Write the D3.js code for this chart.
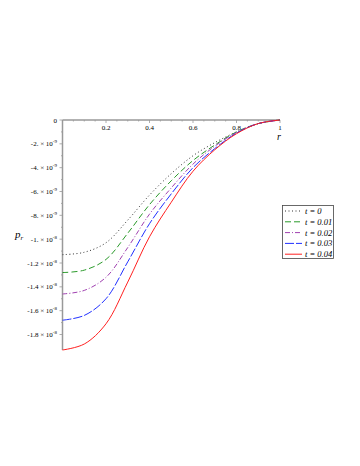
<!DOCTYPE html>
<html>
<head>
<meta charset="utf-8">
<script src="https://cdn.jsdelivr.net/npm/d3@7"></script>
<style>
  body { margin: 0; background: #fff; }
  text { font-family: "Liberation Serif", "DejaVu Serif", serif; fill: #000; }
</style>
</head>
<body>
<div class="chart"></div>
<script>
// radius samples
let rVals = [0, 0.1, 0.2, 0.3, 0.4, 0.5, 0.6, 0.7, 0.8, 0.9, 1];
// p_r values in units of 1e-9
let pT0    = [-11.3, -11.1, -10.3, -8.4, -6.3, -4.5, -3.0, -1.9, -1.0, -0.3, 0];
let pT001  = [-12.8, -12.6, -11.7, -9.5, -7.1, -5.1, -3.4, -2.1, -1.0, -0.3, 0];
let pT002  = [-14.6, -14.3, -13.2, -10.7, -7.9, -5.7, -3.7, -2.2, -1.05, -0.3, 0];
let pT003  = [-16.8, -16.4, -15.0, -11.9, -8.7, -6.2, -4.0, -2.4, -1.1, -0.3, 0];
let pT004  = [-19.3, -18.8, -17.1, -13.6, -9.8, -6.9, -4.3, -2.5, -1.15, -0.3, 0];
let seriesNames = ["t = 0", "t = 0.01", "t = 0.02", "t = 0.03", "t = 0.04"];

let xTicks = [0.2, 0.4, 0.6, 0.8, 1];
let xTickLabels = ["0.2", "0.4", "0.6", "0.8", "1"];
let yTicks = [0, -2e-9, -4e-9, -6e-9, -8e-9, -1e-8, -1.2e-8, -1.4e-8, -1.6e-8, -1.8e-8];
let yMantissa = ["0", "-2.", "-4.", "-6.", "-8.", "-1.", "-1.2", "-1.4", "-1.6", "-1.8"];
let yExponent = ["", "-9", "-9", "-9", "-9", "-8", "-8", "-8", "-8", "-8"];

let width = 360, height = 466;

let svg = d3.select('.chart').append('svg')
    .attr('width', width)
    .attr('height', height);

let x = d3.scaleLinear().domain([0, 1]).range([62.5, 280]);
let y = d3.scaleLinear().domain([-1.93e-8, 0]).range([350, 120]);

// axes lines
svg.append('line')
    .attr('x1', x(0)).attr('x2', x(1))
    .attr('y1', y(0)).attr('y2', y(0))
    .attr('stroke', '#999').attr('stroke-width', 1.5);
svg.append('line')
    .attr('x1', x(0)).attr('x2', x(0))
    .attr('y1', y(0)).attr('y2', y(-1.93e-8))
    .attr('stroke', '#999').attr('stroke-width', 1.5);

// x ticks (major + minor)
let xMinor = d3.range(1, 21).map(d => d * 0.05);
svg.selectAll('.xminor').data(xMinor).enter().append('line')
    .attr('x1', d => x(d)).attr('x2', d => x(d))
    .attr('y1', y(0)).attr('y2', d => y(0) + (Math.abs(d * 5 - Math.round(d * 5)) < 1e-6 ? 3 : 1.5))
    .attr('stroke', '#999').attr('stroke-width', 0.8);
svg.selectAll('.xlab').data(xTicks).enter().append('text')
    .attr('x', d => x(d)).attr('y', y(0) + 10)
    .attr('text-anchor', 'middle')
    .attr('font-size', 7)
    .text((d, i) => xTickLabels[i]);

// y ticks (major + minor)
let yMinor = d3.range(0, 19).map(d => -d * 1e-9);
svg.selectAll('.yminor').data(yMinor).enter().append('line')
    .attr('x1', x(0)).attr('x2', (d, i) => x(0) - (i % 2 === 0 ? 3 : 1.5))
    .attr('y1', d => y(d)).attr('y2', d => y(d))
    .attr('stroke', '#999').attr('stroke-width', 0.8);

let yLab = svg.selectAll('.ylab').data(yTicks).enter().append('text')
    .attr('x', 57).attr('y', d => y(d) + 2.5)
    .attr('text-anchor', 'end')
    .attr('font-size', 7);
yLab.append('tspan').text((d, i) => yMantissa[i] + (yExponent[i] ? ' × 10' : ''));
yLab.filter((d, i) => yExponent[i] !== '').append('tspan')
    .attr('dy', -3).attr('font-size', 5)
    .text(d => yExponent[yTicks.indexOf(d)]);

// axis titles
svg.append('text')
    .attr('x', 277).attr('y', 140)
    .attr('font-style', 'italic').attr('font-size', 10)
    .text('r');
let pLab = svg.append('text')
    .attr('x', 15).attr('y', 238)
    .attr('font-style', 'italic').attr('font-size', 11);
pLab.append('tspan').text('p');
pLab.append('tspan').attr('dy', 2).attr('font-size', 7).text('r');

// curves
let allSeries = [pT0, pT001, pT002, pT003, pT004];
let colors = ['#333333', '#2a9a2a', '#a040b0', '#2030ff', '#ff2020'];
let dashes = ['1,2.5', '6,3', '5,2,1,2', '9,2', null];

let line = d3.line()
    .x((d, i) => x(rVals[i]))
    .y(d => y(d * 1e-9))
    .curve(d3.curveCatmullRom.alpha(0.5));

allSeries.forEach(function (s, k) {
    svg.append('path')
        .datum(s)
        .attr('d', line)
        .attr('fill', 'none')
        .attr('stroke', colors[k])
        .attr('stroke-width', 1)
        .attr('stroke-dasharray', dashes[k]);
});

// legend
svg.append('rect')
    .attr('x', 282.5).attr('y', 205.5)
    .attr('width', 51).attr('height', 53)
    .attr('fill', '#fff')
    .attr('stroke', '#444').attr('stroke-width', 0.8);

seriesNames.forEach(function (name, k) {
    let ly = 211 + k * 10.8;
    svg.append('line')
        .attr('x1', 285).attr('x2', 302)
        .attr('y1', ly).attr('y2', ly)
        .attr('stroke', colors[k])
        .attr('stroke-width', 1)
        .attr('stroke-dasharray', dashes[k]);
    svg.append('text')
        .attr('x', 305).attr('y', ly + 3)
        .attr('font-style', 'italic').attr('font-size', 8.5)
        .text(name);
});
</script>
</body>
</html>
